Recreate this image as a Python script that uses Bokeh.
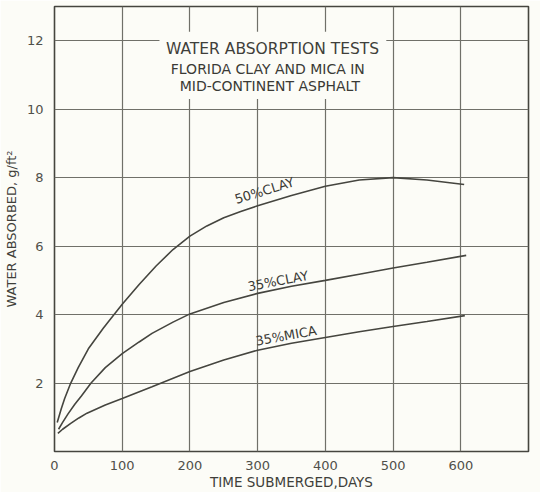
from bokeh.plotting import figure
from bokeh.models import FixedTicker, Range1d, ColumnDataSource
from bokeh.core.properties import value
from bokeh.embed import file_html
from bokeh.resources import INLINE

# ---- data ----
days_50clay = [4, 10, 15, 24, 35, 50, 72, 88, 100, 125, 150, 175, 200, 225, 250, 275, 300, 350, 400, 450, 500, 550, 605]
abs_50clay = [0.85, 1.25, 1.55, 2.0, 2.45, 3.0, 3.6, 4.0, 4.3, 4.88, 5.42, 5.9, 6.29, 6.59, 6.83, 7.01, 7.18, 7.48, 7.75, 7.93, 8.0, 7.93, 7.8]

days_35clay = [6, 12, 20, 30, 40, 54, 75, 100, 125, 144, 175, 200, 250, 300, 350, 400, 450, 500, 550, 608]
abs_35clay = [0.65, 0.85, 1.1, 1.38, 1.63, 2.0, 2.45, 2.86, 3.2, 3.45, 3.78, 4.02, 4.35, 4.62, 4.83, 5.0, 5.18, 5.36, 5.53, 5.73]

days_35mica = [5, 12, 24, 36, 48, 75, 100, 144, 200, 250, 300, 350, 400, 450, 500, 550, 606]
abs_35mica = [0.53, 0.65, 0.82, 0.98, 1.12, 1.36, 1.55, 1.89, 2.34, 2.67, 2.96, 3.16, 3.33, 3.5, 3.65, 3.8, 3.97]

curve_labels = ["50%CLAY", "35%CLAY", "35%MICA"]
label_x = [310, 330, 342]
label_y = [7.62, 4.98, 3.38]
label_angle = [0.30, 0.19, 0.18]

title_lines = ["WATER ABSORPTION TESTS", "FLORIDA CLAY AND MICA IN", "MID-CONTINENT ASPHALT"]

x_ticks = [0, 100, 200, 300, 400, 500, 600]
y_ticks = [2, 4, 6, 8, 10, 12]

BG = "#fcfcf7"
INK = "#45453f"
FONT = "DejaVu Sans"

p = figure(width=540, height=492, output_backend="svg", toolbar_location=None,
           x_range=Range1d(0, 700), y_range=Range1d(0, 13),
           min_border_left=48, min_border_right=12, min_border_top=6, min_border_bottom=39)
p.background_fill_color = BG
p.border_fill_color = BG
p.outline_line_color = INK
p.outline_line_width = 1.6

p.xaxis.ticker = FixedTicker(ticks=x_ticks)
p.yaxis.ticker = FixedTicker(ticks=y_ticks)
for ax in (p.xaxis[0], p.yaxis[0]):
    ax.axis_line_color = None
    ax.major_tick_line_color = None
    ax.minor_tick_line_color = None
    ax.major_label_text_font = FONT
    ax.major_label_text_font_size = "13px"
    ax.major_label_text_color = "#50504a"
    ax.axis_label_text_font = FONT
    ax.axis_label_text_font_style = "normal"
    ax.axis_label_text_color = "#3f3f3a"
p.xaxis.axis_label_text_font_size = "13.5px"
p.yaxis.axis_label_text_font_size = "13px"
p.xaxis.major_label_standoff = 3
p.yaxis.major_label_standoff = 5
p.xaxis.axis_label = "TIME SUBMERGED,DAYS"
p.xaxis.axis_label_standoff = 1
p.yaxis.axis_label = "WATER ABSORBED, g/ft\u00b2"
p.yaxis.axis_label_standoff = 5

p.grid.grid_line_color = "#707069"
p.grid.grid_line_width = 1.2
p.grid.grid_line_alpha = 1.0

# title box covering the grid
p.quad(left=[155], right=[490], bottom=[10.3], top=[12.26], fill_color=BG, line_color=None)
p.text(x=[322], y=[11.77], text=title_lines[:1],
       text_font=value(FONT), text_font_size=value("15.5px"),
       text_color="#3f3f3a", text_align="center", text_baseline="middle")
p.text(x=[315, 318], y=[11.18, 10.68], text=title_lines[1:],
       text_font=value(FONT), text_font_size=value("14px"),
       text_color="#3a3a35", text_align="center", text_baseline="middle")

lines = [(days_50clay, abs_50clay), (days_35clay, abs_35clay), (days_35mica, abs_35mica)]
for xs, ys in lines:
    p.line(xs, ys, line_color=INK, line_width=1.6)

src = ColumnDataSource(dict(x=label_x, y=label_y, t=curve_labels, a=label_angle))
p.text(x="x", y="y", text="t", angle="a", source=src, text_font=value(FONT),
       text_font_size=value("13px"), text_color="#3a3a35", text_align="center",
       text_baseline="middle")

open("out.html", "w").write(file_html(p, INLINE))
